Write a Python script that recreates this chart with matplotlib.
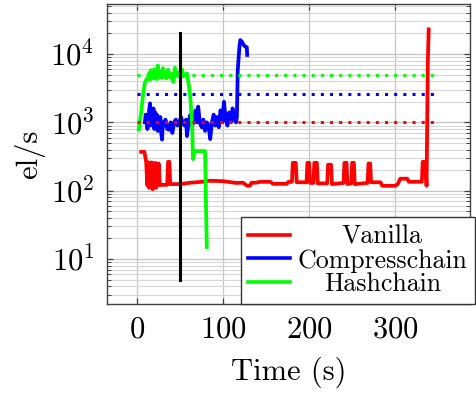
import numpy as np
import matplotlib
matplotlib.use("Agg")
import matplotlib.pyplot as plt
from matplotlib.ticker import LogLocator, NullFormatter

# Vanilla throughput
van_t = [4.7, 8.5, 10.5, 12, 13, 14, 15, 16, 17, 18, 19, 20, 21, 22, 23, 24, 25, 26.5,
         28, 35, 36, 37.5, 38.5, 50, 62, 75, 85, 100, 115, 123, 128, 131, 133, 138,
         143, 155, 158, 174, 176, 180, 181, 184.5, 185.5, 197, 198, 200, 201, 205,
         206, 209, 210, 221, 222, 225.5, 226.5, 240, 241, 243.5, 244.5, 249, 250,
         252, 253, 268, 269, 271, 272, 283, 285, 300, 303, 306, 314, 316, 331, 332,
         335, 336.5, 338, 339]
van_v = [370, 370, 265, 120, 260, 110, 255, 115, 260, 105, 250, 115, 255, 110, 250, 120,
         250, 120, 122, 122, 265, 265, 125, 125, 131, 135, 140, 138, 130, 131, 118, 118,
         131, 131, 135, 135, 126, 126, 135, 135, 256, 256, 133, 133, 256, 256, 130, 130,
         256, 256, 128, 128, 240, 240, 125, 130, 256, 256, 125, 128, 256, 256, 125, 130,
         250, 250, 133, 133, 118, 118, 125, 150, 150, 135, 135, 265, 265, 118, 8000,
         23000]

# Compresschain throughput
cmp_t = [9, 10, 11, 12, 13, 14, 15, 16, 17, 18, 19, 20, 21, 22, 23, 24, 25, 26, 27, 28,
         29, 30, 31, 33, 35, 37, 39, 41, 43, 45, 47, 49, 51, 53, 55, 57, 58, 60, 62, 64,
         66, 68, 70, 71, 73, 75, 77, 79, 81, 83, 85, 87, 89, 91, 93, 95, 97, 99, 101,
         103, 105, 107, 109, 111, 113, 115, 116, 117, 119, 120, 122, 124, 126, 127.5, 128]
cmp_v = [1000, 1300, 1150, 800, 1100, 1500, 1900, 900, 1200, 1000, 1600, 800, 1400, 900,
         1300, 750, 1100, 800, 1200, 700, 560, 1000, 900, 1100, 800, 780, 1000, 700, 1000,
         1100, 900, 1000, 1200, 1000, 900, 1100, 630, 1000, 1300, 900, 1000, 1500, 1000,
         1700, 1000, 850, 1100, 750, 1000, 900, 570, 1000, 1300, 900, 1200, 850, 1500,
         1000, 2000, 1100, 900, 1400, 1000, 1600, 1100, 1000, 1200, 5800, 13000, 16000,
         15000, 13500, 12800, 12600, 9700]

# Hashchain throughput
hsh_t = [2, 5, 7, 9, 11, 13, 14, 15, 16, 17, 18, 19, 20, 21, 22, 23, 24, 25, 26, 27, 28,
         29, 30, 31, 32, 34, 36, 38, 40, 42, 44, 46, 48, 50, 52, 54, 56, 58, 60, 62, 64,
         65, 67, 79, 81]
hsh_v = [790, 1500, 2600, 3800, 4300, 4500, 5300, 4200, 5800, 4600, 5200, 4400, 6000,
         4700, 5500, 4300, 6800, 4800, 5300, 4500, 5600, 4500, 6200, 4700, 5300, 4400,
         5900, 4600, 5100, 3900, 6300, 4800, 5400, 4500, 6000, 4700, 5000, 5200, 3600,
         2200, 900, 290, 380, 380, 15]

# reference levels (dotted)
ref_t = [0, 350]
van_ref = 1000
cmp_ref = 2600
hsh_ref = 5000

# marker line
mark_t = [50, 50]
mark_v = [5, 20000]

plt.rcParams['font.family'] = 'serif'
plt.rcParams['font.serif'] = ['cmr10']
plt.rcParams['mathtext.fontset'] = 'cm'
plt.rcParams['axes.formatter.use_mathtext'] = True

fig = plt.figure(figsize=(4.77, 3.95), dpi=100)
ax = fig.add_axes([107/477, 1 - 304/395, 363/477, 300/395])

lw = 2.7
ax.plot(van_t, van_v, color='#ff0000', lw=lw, label='Vanilla', zorder=3)
ax.plot(cmp_t, cmp_v, color='#0000ff', lw=lw, label='Compresschain', zorder=3)
ax.plot(hsh_t, hsh_v, color='#00ff00', lw=lw, label='Hashchain', zorder=3)

dot = dict(lw=2.2, linestyle=(0, (1, 2)), dash_capstyle='butt', zorder=4)
ax.plot(ref_t, [van_ref] * 2, color='#ff0000', **dot)
ax.plot(ref_t, [cmp_ref] * 2, color='#0000ff', **dot)
ax.plot(ref_t, [hsh_ref] * 2, color='#00ff00', **dot)

ax.plot(mark_t, mark_v, color='black', lw=2.2, zorder=5)

ax.set_yscale('log')
ax.set_xlim(-35, 387)
ax.set_ylim(2.2, 5.4e4)
ax.set_xticks([0, 100, 200, 300])
ax.yaxis.set_major_locator(LogLocator(base=10, numticks=10))
ax.yaxis.set_minor_locator(LogLocator(base=10, subs=np.arange(2, 10), numticks=20))
ax.yaxis.set_minor_formatter(NullFormatter())

ax.grid(True, which='major', color='#c4c4c4', lw=0.9, zorder=0)
ax.grid(True, which='minor', axis='y', color='#d6d6d6', lw=0.8, zorder=0)
ax.set_axisbelow(True)

for s in ax.spines.values():
    s.set_color('#404040')
    s.set_linewidth(1.0)
ax.tick_params(which='both', direction='in', top=True, right=True, color='#404040',
               labelsize=22)
ax.tick_params(which='major', length=4.5, width=0.9, pad=9)
ax.tick_params(which='minor', length=3, width=0.7)

ax.set_xlabel('Time (s)', fontsize=22, labelpad=9)
ax.set_ylabel('el/s', fontsize=22, labelpad=4)

leg = ax.legend(loc='lower right', bbox_to_anchor=(475/477, 1 - 304/395),
                bbox_transform=fig.transFigure, borderaxespad=0, fontsize=18.6,
                fancybox=False, framealpha=1, edgecolor='#333333', handlelength=1.6,
                handletextpad=0.3, borderpad=0.3, labelspacing=0.0)
leg.get_frame().set_linewidth(1.0)
leg.set_zorder(10)
for h in leg.get_lines():
    h.set_linewidth(2.6)

# centre the legend labels like pgfplots does
fig.canvas.draw()
r = fig.canvas.get_renderer()
texts = leg.get_texts()
ws = [t.get_window_extent(r).width for t in texts]
for t, w in zip(texts, ws):
    t.set_x((max(ws) - w) / 2)

fig.savefig('out.png', dpi=100)
